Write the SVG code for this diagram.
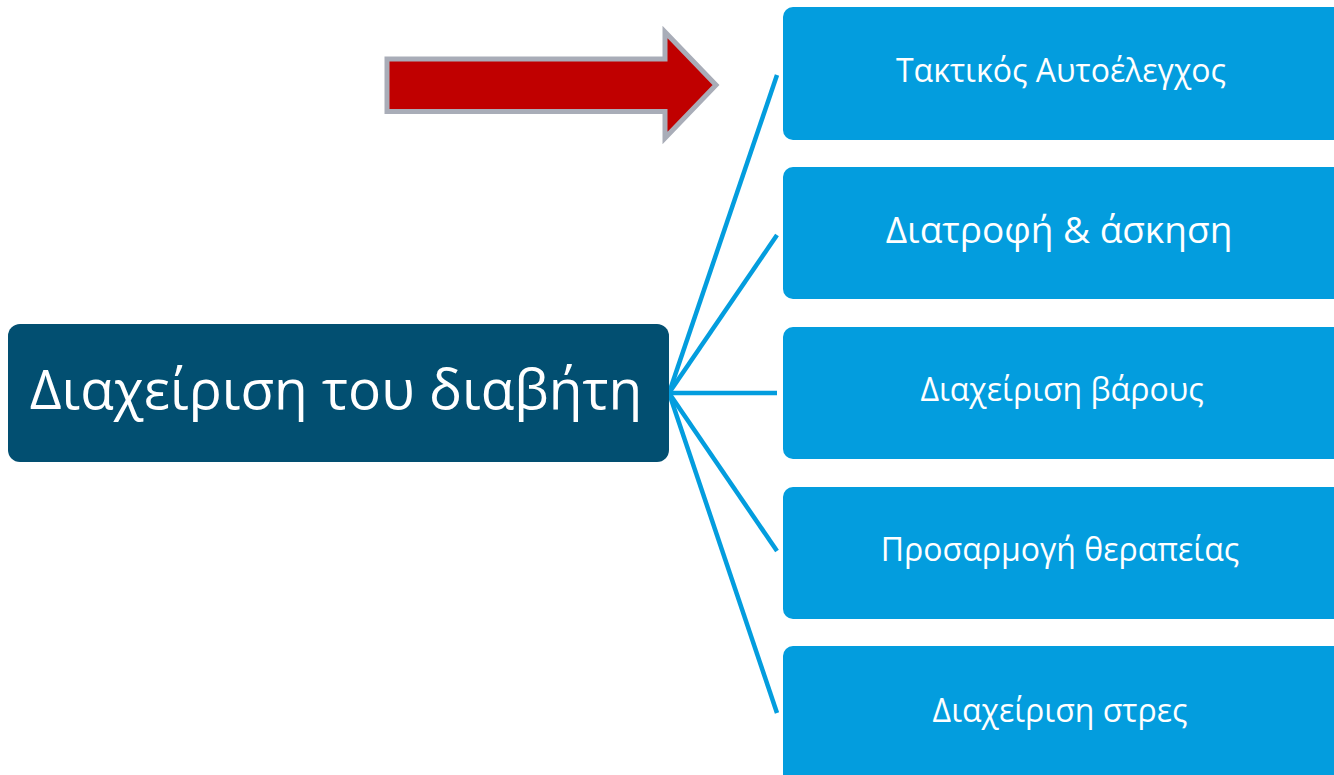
<svg xmlns="http://www.w3.org/2000/svg" width="1334" height="775" viewBox="0 0 1334 775">
<style>
.child{fill:#039dde}
.ct{font-family:"Open Sans","Noto Sans",sans-serif;fill:#fff;text-anchor:middle}
.conn{stroke:#039dde;stroke-width:4.5;fill:none}
</style>
<rect width="1334" height="775" fill="#fff"/>
<g id="arrow">
<polygon points="387,59 665,59 665,32 716,85 665,138 665,111.5 387,111.5" fill="#c00000" stroke="#a9adb8" stroke-width="5"/>
</g>
<g id="connectors">
<line class="conn" x1="669" y1="393" x2="777" y2="75"/>
<line class="conn" x1="669" y1="393" x2="777" y2="235"/>
<line class="conn" x1="669" y1="393" x2="777" y2="393"/>
<line class="conn" x1="669" y1="393" x2="777" y2="551"/>
<line class="conn" x1="669" y1="393" x2="777" y2="713"/>
</g>
<g id="root">
<rect x="8" y="324" width="661" height="138" rx="12" fill="#024f71"/>
<text class="ct" x="336" y="409" font-size="55">Διαχείριση του διαβήτη</text>
</g>
<g id="n1">
<rect class="child" x="783" y="7" width="566" height="133" rx="10"/>
<text class="ct" x="1061" y="82" font-size="32">Τακτικός Αυτοέλεγχος</text>
</g>
<g id="n2">
<rect class="child" x="783" y="167" width="566" height="132" rx="10"/>
<text class="ct" x="1059" y="243" font-size="37">Διατροφή &amp; άσκηση</text>
</g>
<g id="n3">
<rect class="child" x="783" y="327" width="566" height="132" rx="10"/>
<text class="ct" x="1062" y="401" font-size="32">Διαχείριση βάρους</text>
</g>
<g id="n4">
<rect class="child" x="783" y="487" width="566" height="132" rx="10"/>
<text class="ct" x="1060" y="561" font-size="32">Προσαρμογή θεραπείας</text>
</g>
<g id="n5">
<rect class="child" x="783" y="646" width="566" height="140" rx="10"/>
<text class="ct" x="1060" y="722" font-size="32">Διαχείριση στρες</text>
</g>
</svg>
